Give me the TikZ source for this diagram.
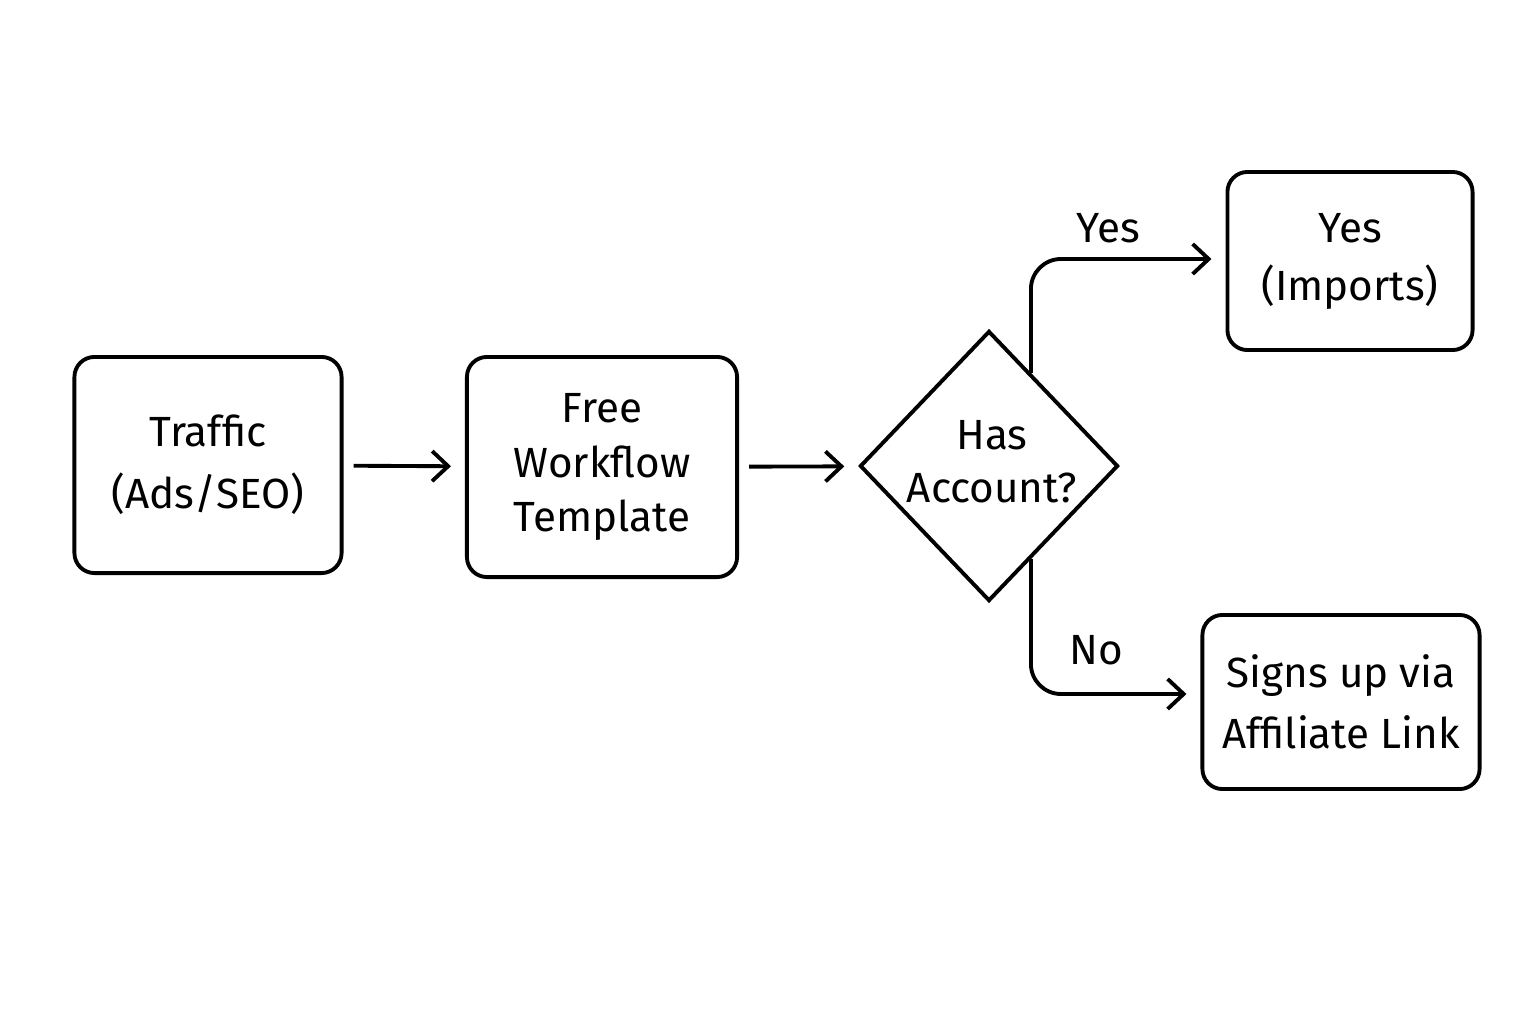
\documentclass[tikz,border=0pt]{standalone}
\usepackage{fontspec}
\setmainfont{Fira Sans}
\usetikzlibrary{shapes.geometric,arrows.meta,calc}
\begin{document}
\begin{tikzpicture}[x=0.01cm,y=-0.01cm,
  box/.style={draw, line width=1.1pt, rounded corners=0.2cm, align=center,
    font=\fontsize{12}{16.5}\selectfont, inner sep=0pt},
  dia/.style={draw, diamond, line width=1.1pt, inner sep=0pt},
  txt/.style={align=center, font=\fontsize{12}{15}\selectfont},
  arr/.style={draw, line width=1.1pt, -{Straight Barb[length=0.16cm,width=0.3cm]},
    shorten <=0.1cm, shorten >=0.14cm}]
\fill[white] (0,0) rectangle (1536,1024);
\useasboundingbox (0,0) rectangle (1536,1024);
\node[box, minimum width=2.67cm, minimum height=2.16cm, font=\fontsize{12}{17.5}\selectfont] (traffic) at (208,465) {Traffic\\(Ads/SEO)};
\node[box, minimum width=2.70cm, minimum height=2.20cm, font=\fontsize{12}{15.5}\selectfont] (free) at (602,467) {Free\\Workflow\\Template};
\node[dia, minimum width=2.58cm, minimum height=2.70cm] (dec) at (989,466) {};
\node[txt] (dectxt) at (992,462) {Has\\Account?};
\node[box, minimum width=2.45cm, minimum height=1.78cm] (yes) at (1350,261) {Yes\\(Imports)};
\node[box, minimum width=2.77cm, minimum height=1.74cm, font=\fontsize{12}{17.5}\selectfont] (sign) at (1341,702) {Signs up via\\Affiliate Link};
\draw[arr] (traffic) -- (free);
\draw[arr] (free) -- (dec);
\coordinate (ys) at ($(dec.north)!0.32!(dec.east)$);
\coordinate (ns) at ($(dec.south)!0.32!(dec.east)$);
\draw[arr, shorten <=0pt, rounded corners=0.3cm] (ys) |- ([yshift=0.02cm]yes.west);
\draw[arr, shorten <=0pt, rounded corners=0.3cm] (ns) |- ([yshift=0.08cm]sign.west);
\node[txt] (ylab) at (1108,228) {Yes};
\node[txt] (nlab) at (1096,650) {No};
\end{tikzpicture}
\end{document}
